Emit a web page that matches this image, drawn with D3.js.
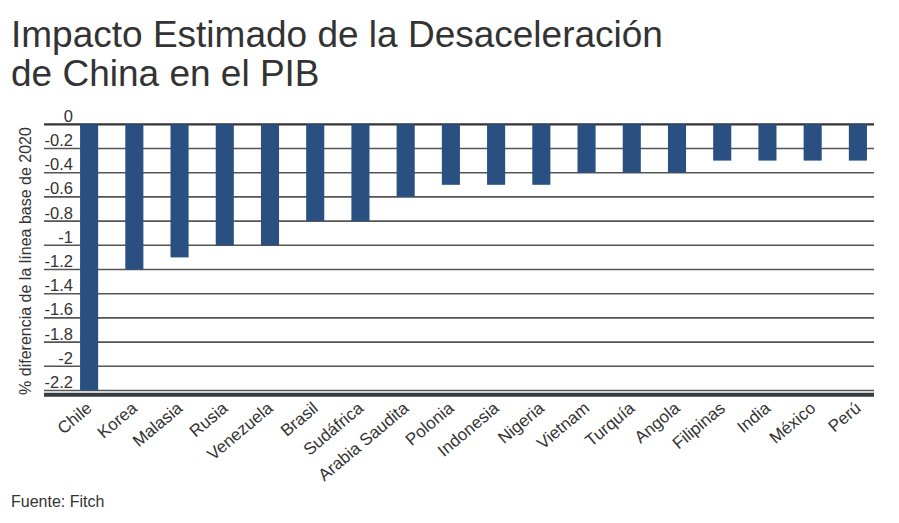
<!DOCTYPE html>
<html><head><meta charset="utf-8">
<script src="https://cdn.jsdelivr.net/npm/d3@7"></script>
<style>body{margin:0;background:#fff}svg{display:block;font-family:"Liberation Sans",Arial,sans-serif}</style>
</head><body>
<svg id="c" width="899" height="523"></svg>
<script>
const countries = ["Chile","Korea","Malasia","Rusia","Venezuela","Brasil","Sudáfrica","Arabia Saudita","Polonia","Indonesia","Nigeria","Vietnam","Turquía","Angola","Filipinas","India","México","Perú"];
const values = [-2.2,-1.2,-1.1,-1.0,-1.0,-0.8,-0.8,-0.6,-0.5,-0.5,-0.5,-0.4,-0.4,-0.4,-0.3,-0.3,-0.3,-0.3];
const yTicks = [0,-0.2,-0.4,-0.6,-0.8,-1,-1.2,-1.4,-1.6,-1.8,-2,-2.2];
const titleLines = ["Impacto Estimado de la Desaceleración","de China en el PIB"];
const yTitle = "% diferencia de la línea base de 2020";
const source = "Fuente: Fitch";

const svg = d3.select("#c");
const x = d3.scaleBand().domain(countries).range([66.5, 880.5]).paddingInner(0.6).paddingOuter(0.3);
const y = d3.scaleLinear().domain([0, -2.2]).range([124.3, 390.5]);
const gx0 = 44, gx1 = 874;

// title
const t = svg.append("g").attr("fill","#333");
titleLines.forEach((s,i)=>{
  t.append("text").attr("x",11).attr("y",47+i*39).attr("font-size",37).text(s);
});

// gridlines
svg.append("g").selectAll("line").data(yTicks).join("line")
  .attr("x1",gx0).attr("x2",gx1)
  .attr("y1",d=>y(d)).attr("y2",d=>y(d))
  .attr("stroke",d=>d===0?"#333":"#555")
  .attr("stroke-width",d=>d===0?2.2:1.6);

// tick labels
svg.append("g").selectAll("text").data(yTicks).join("text")
  .attr("x",73).attr("y",d=>y(d)-2.5)
  .attr("text-anchor","end").attr("font-size",16.5).attr("fill","#333")
  .text(d=>String(d));

// bars
svg.append("g").selectAll("rect").data(values).join("rect")
  .attr("x",(d,i)=>x(countries[i]))
  .attr("width",x.bandwidth())
  .attr("y",y(0))
  .attr("height",d=>y(d)-y(0))
  .attr("fill","#2a5081");

// bottom axis line
svg.append("line").attr("x1",gx0).attr("x2",gx1).attr("y1",394.8).attr("y2",394.8)
  .attr("stroke","#353d42").attr("stroke-width",4);

// x labels
svg.append("g").selectAll("text").data(countries).join("text")
  .attr("transform",d=>`translate(${x(d)+x.bandwidth()/2+4},${410}) rotate(-40)`)
  .attr("text-anchor","end").attr("font-size",17).attr("fill","#333")
  .text(d=>d);

// y title
svg.append("text")
  .attr("transform",`translate(31,${261}) rotate(-90)`)
  .attr("text-anchor","middle").attr("font-size",16).attr("fill","#333")
  .text(yTitle);

svg.append("text").attr("x",11).attr("y",507).attr("font-size",16).attr("fill","#333").text(source);
</script>
</body></html>
